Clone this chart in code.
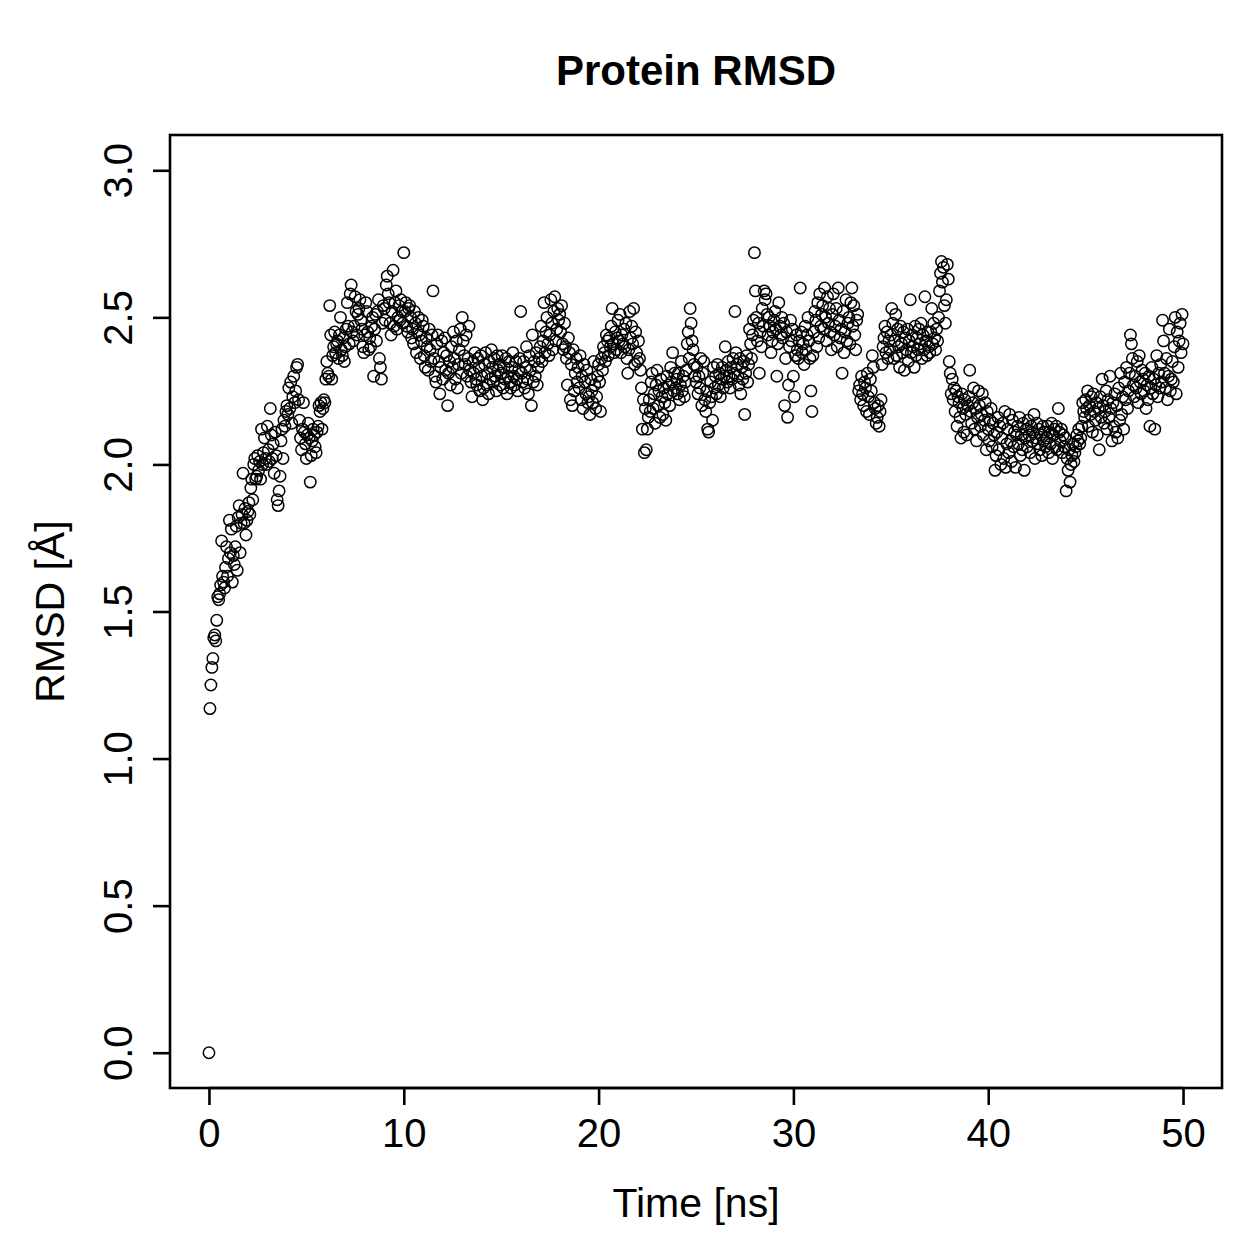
<!DOCTYPE html>
<html>
<head>
<meta charset="utf-8">
<script src="https://cdn.jsdelivr.net/npm/d3@7"></script>
<style>
  body { margin: 0; background: #fff; }
  text { font-family: "Liberation Sans", Arial, Helvetica, sans-serif; fill: #000; }
</style>
</head>
<body>
<div id="chart"></div>
<script>
// RMSD values, one frame every 0.05 ns
var timeStep = 0.05;
var rmsd0to10 = [
  0.00, 1.17, 1.25, 1.31, 1.34, 1.41, 1.42, 1.40, 1.47, 1.55,
  1.54, 1.56, 1.59, 1.74, 1.62, 1.60, 1.58, 1.65, 1.72, 1.62,
  1.68, 1.81, 1.70, 1.78, 1.60, 1.69, 1.66, 1.72, 1.79, 1.64,
  1.82, 1.86, 1.70, 1.80, 1.83, 1.97, 1.80, 1.85, 1.76, 1.81,
  1.84, 1.87, 1.83, 1.92, 1.95, 1.88, 2.00, 2.02, 1.95, 1.96,
  2.03, 1.98, 2.01, 1.95, 2.12, 2.00, 2.04, 2.09, 2.02, 2.00,
  2.13, 2.05, 2.01, 2.19, 2.10, 2.02, 2.07, 1.97, 2.11, 2.03,
  1.88, 1.86, 1.91, 1.96, 2.08, 2.12, 2.02, 2.15, 2.13, 2.18,
  2.20, 2.17, 2.26, 2.19, 2.28, 2.14, 2.23, 2.30, 2.21, 2.25,
  2.33, 2.34, 2.22, 2.15, 2.09, 2.05, 2.12, 2.21, 2.11, 2.07,
  2.02, 2.10, 2.14, 2.09, 1.94, 2.03, 2.08, 2.12, 2.10, 2.06,
  2.04, 2.11, 2.13, 2.20, 2.18, 2.21, 2.12, 2.19, 2.22, 2.21,
  2.29, 2.35, 2.31, 2.30, 2.54, 2.44, 2.29, 2.37, 2.40, 2.45,
  2.38, 2.41, 2.42, 2.36, 2.44, 2.50, 2.39, 2.37, 2.43, 2.35,
  2.40, 2.46, 2.55, 2.47, 2.41, 2.58, 2.61, 2.45, 2.42, 2.47,
  2.57, 2.52, 2.44, 2.51, 2.53, 2.56, 2.49, 2.46, 2.40, 2.38,
  2.44, 2.55, 2.52, 2.45, 2.39, 2.43, 2.40, 2.47, 2.50, 2.30,
  2.46, 2.51, 2.42, 2.52, 2.56, 2.36, 2.33, 2.29, 2.48, 2.54,
  2.53, 2.49, 2.61, 2.64, 2.58, 2.55, 2.48, 2.44, 2.52, 2.66,
  2.47, 2.55, 2.59, 2.46, 2.50, 2.54, 2.49, 2.56, 2.52, 2.48
];
var rmsd10to20 = [
  2.72, 2.52, 2.55, 2.47, 2.45, 2.53, 2.54, 2.50, 2.43, 2.46,
  2.41, 2.52, 2.48, 2.38, 2.45, 2.50, 2.44, 2.36, 2.42, 2.49,
  2.47, 2.37, 2.33, 2.43, 2.40, 2.32, 2.46, 2.39, 2.35, 2.44,
  2.59, 2.36, 2.30, 2.28, 2.41, 2.44, 2.35, 2.24, 2.33, 2.42,
  2.29, 2.38, 2.43, 2.32, 2.37, 2.20, 2.31, 2.35, 2.27, 2.40,
  2.33, 2.45, 2.36, 2.29, 2.42, 2.26, 2.34, 2.39, 2.46, 2.31,
  2.50, 2.42, 2.37, 2.34, 2.44, 2.30, 2.36, 2.47, 2.32, 2.28,
  2.23, 2.35, 2.31, 2.38, 2.29, 2.27, 2.36, 2.33, 2.25, 2.37,
  2.30, 2.22, 2.26, 2.34, 2.38, 2.27, 2.31, 2.24, 2.35, 2.29,
  2.39, 2.33, 2.28, 2.36, 2.30, 2.25, 2.37, 2.32, 2.34, 2.27,
  2.31, 2.37, 2.26, 2.33, 2.29, 2.36, 2.24, 2.30, 2.35, 2.28,
  2.26, 2.33, 2.38, 2.30, 2.27, 2.35, 2.29, 2.25, 2.32, 2.36,
  2.52, 2.31, 2.28, 2.35, 2.26, 2.33, 2.40, 2.29, 2.24, 2.37,
  2.32, 2.20, 2.44, 2.28, 2.35, 2.30, 2.38, 2.27, 2.33, 2.36,
  2.40, 2.47, 2.35, 2.42, 2.55, 2.38, 2.45, 2.50, 2.41, 2.37,
  2.44, 2.56, 2.48, 2.39, 2.52, 2.57, 2.42, 2.46, 2.53, 2.49,
  2.51, 2.45, 2.54, 2.41, 2.39, 2.48, 2.40, 2.36, 2.27, 2.43,
  2.38, 2.22, 2.34, 2.20, 2.39, 2.25, 2.31, 2.36, 2.28, 2.33,
  2.26, 2.37, 2.22, 2.30, 2.19, 2.34, 2.28, 2.24, 2.32, 2.21,
  2.23, 2.17, 2.29, 2.25, 2.21, 2.35, 2.27, 2.19, 2.23, 2.30
];
var rmsd20to30 = [
  2.34, 2.28, 2.18, 2.36, 2.32, 2.40, 2.38, 2.35, 2.44, 2.42,
  2.37, 2.43, 2.40, 2.47, 2.53, 2.41, 2.38, 2.45, 2.39, 2.43,
  2.49, 2.42, 2.51, 2.38, 2.44, 2.41, 2.46, 2.40, 2.48, 2.36,
  2.31, 2.39, 2.52, 2.43, 2.47, 2.41, 2.53, 2.34, 2.45, 2.38,
  2.35, 2.42, 2.36, 2.32, 2.26, 2.12, 2.22, 2.04, 2.19, 2.05,
  2.12, 2.16, 2.22, 2.18, 2.28, 2.31, 2.19, 2.24, 2.14, 2.27,
  2.32, 2.20, 2.25, 2.16, 2.29, 2.23, 2.17, 2.26, 2.21, 2.15,
  2.30, 2.24, 2.27, 2.20, 2.33, 2.28, 2.38, 2.25, 2.31, 2.26,
  2.29, 2.24, 2.31, 2.22, 2.27, 2.35, 2.25, 2.30, 2.23, 2.28,
  2.32, 2.41, 2.45, 2.36, 2.53, 2.48, 2.42, 2.39, 2.34, 2.30,
  2.28, 2.33, 2.24, 2.30, 2.26, 2.36, 2.20, 2.31, 2.35, 2.22,
  2.18, 2.25, 2.12, 2.11, 2.21, 2.28, 2.23, 2.15, 2.33, 2.26,
  2.30, 2.24, 2.34, 2.27, 2.31, 2.23, 2.29, 2.33, 2.26, 2.30,
  2.40, 2.32, 2.28, 2.35, 2.30, 2.26, 2.33, 2.29, 2.36, 2.31,
  2.52, 2.38, 2.34, 2.30, 2.27, 2.36, 2.24, 2.33, 2.29, 2.35,
  2.17, 2.31, 2.37, 2.28, 2.34, 2.46, 2.41, 2.36, 2.44, 2.49,
  2.72, 2.59, 2.50, 2.42, 2.48, 2.31, 2.45, 2.40, 2.53, 2.47,
  2.59, 2.56, 2.58, 2.51, 2.44, 2.50, 2.47, 2.38, 2.42, 2.45,
  2.49, 2.52, 2.46, 2.30, 2.41, 2.55, 2.47, 2.44, 2.50, 2.43,
  2.48, 2.20, 2.36, 2.45, 2.16, 2.27, 2.40, 2.49, 2.42, 2.46
];
var rmsd30to40 = [
  2.30, 2.23, 2.37, 2.44, 2.39, 2.36, 2.42, 2.60, 2.45, 2.38,
  2.41, 2.34, 2.47, 2.39, 2.44, 2.50, 2.42, 2.36, 2.25, 2.18,
  2.37, 2.45, 2.52, 2.49, 2.40, 2.55, 2.43, 2.58, 2.47, 2.51,
  2.54, 2.46, 2.60, 2.50, 2.42, 2.57, 2.48, 2.53, 2.45, 2.39,
  2.51, 2.58, 2.44, 2.47, 2.53, 2.40, 2.60, 2.49, 2.43, 2.46,
  2.31, 2.52, 2.38, 2.45, 2.56, 2.42, 2.48, 2.50, 2.41, 2.55,
  2.60, 2.47, 2.54, 2.44, 2.39, 2.49, 2.51, 2.25, 2.27, 2.22,
  2.30, 2.24, 2.20, 2.28, 2.26, 2.18, 2.31, 2.23, 2.17, 2.29,
  2.25, 2.37, 2.33, 2.21, 2.19, 2.14, 2.16, 2.20, 2.13, 2.18,
  2.22, 2.34, 2.40, 2.43, 2.47, 2.38, 2.45, 2.36, 2.42, 2.39,
  2.44, 2.53, 2.48, 2.36, 2.42, 2.51, 2.37, 2.46, 2.40, 2.33,
  2.47, 2.41, 2.38, 2.45, 2.32, 2.43, 2.39, 2.46, 2.35, 2.42,
  2.56, 2.38, 2.44, 2.40, 2.33, 2.47, 2.37, 2.43, 2.39, 2.46,
  2.41, 2.48, 2.36, 2.44, 2.39, 2.57, 2.42, 2.37, 2.45, 2.40,
  2.38, 2.45, 2.53, 2.41, 2.48, 2.43, 2.39, 2.46, 2.42, 2.50,
  2.59, 2.65, 2.69, 2.62, 2.67, 2.54, 2.48, 2.56, 2.68, 2.63,
  2.35, 2.31, 2.24, 2.29, 2.22, 2.26, 2.18, 2.25, 2.13, 2.23,
  2.21, 2.16, 2.09, 2.24, 2.19, 2.11, 2.22, 2.17, 2.10, 2.20,
  2.23, 2.32, 2.18, 2.14, 2.21, 2.26, 2.12, 2.19, 2.08, 2.16,
  2.25, 2.20, 2.13, 2.17, 2.24, 2.10, 2.15, 2.21, 2.05, 2.18
];
var rmsd40to50 = [
  2.12, 2.08, 2.15, 2.19, 2.06, 2.14, 2.10, 1.98, 2.03, 2.11,
  2.16, 2.05, 2.13, 2.00, 2.09, 2.14, 2.02, 2.18, 1.99, 2.07,
  2.12, 2.04, 2.17, 2.08, 2.01, 2.15, 2.06, 2.11, 1.99, 2.10,
  2.13, 2.07, 2.16, 2.03, 2.10, 2.05, 2.14, 1.98, 2.09, 2.12,
  2.06, 2.15, 2.10, 2.04, 2.13, 2.08, 2.11, 2.17, 2.02, 2.09,
  2.14, 2.07, 2.12, 2.05, 2.10, 2.03, 2.13, 2.08, 2.11, 2.06,
  2.09, 2.13, 2.04, 2.11, 2.07, 2.14, 2.02, 2.10, 2.12, 2.06,
  2.13, 2.05, 2.19, 2.11, 2.08, 2.12, 2.04, 2.10, 2.06, 2.09,
  1.91, 2.02, 1.98, 2.05, 1.94, 2.00, 2.03, 2.07, 2.01, 2.04,
  2.06, 2.10, 2.08, 2.12, 2.07, 2.09, 2.13, 2.21, 2.18, 2.16,
  2.22, 2.19, 2.25, 2.13, 2.20, 2.17, 2.23, 2.11, 2.24, 2.18,
  2.15, 2.21, 2.10, 2.19, 2.05, 2.23, 2.16, 2.29, 2.20, 2.14,
  2.18, 2.25, 2.12, 2.22, 2.16, 2.30, 2.19, 2.08, 2.21, 2.13,
  2.24, 2.11, 2.20, 2.09, 2.26, 2.15, 2.31, 2.17, 2.23, 2.12,
  2.28, 2.22, 2.33, 2.19, 2.25, 2.31, 2.44, 2.41, 2.36, 2.27,
  2.23, 2.30, 2.26, 2.35, 2.21, 2.37, 2.28, 2.24, 2.32, 2.29,
  2.25, 2.31, 2.19, 2.27, 2.22, 2.30, 2.13, 2.26, 2.33, 2.24,
  2.29, 2.12, 2.27, 2.37, 2.23, 2.31, 2.26, 2.34, 2.28, 2.49,
  2.42, 2.31, 2.26, 2.36, 2.22, 2.30, 2.46, 2.25, 2.29, 2.35,
  2.28, 2.40, 2.50, 2.24, 2.45, 2.33, 2.42, 2.48, 2.38, 2.51,
  2.41
];
var xTicks = [0, 10, 20, 30, 40, 50];
var yTicks = [0.0, 0.5, 1.0, 1.5, 2.0, 2.5, 3.0];

var rmsd = rmsd0to10.concat(rmsd10to20, rmsd20to30, rmsd30to40, rmsd40to50);
var points = rmsd.map(function(v, i) {
  return { time: i * timeStep, rmsd: v };
});

var width = 1259,
  height = 1259;
var margin = { top: 135, right: 37, bottom: 171, left: 170 };

var svg = d3
  .select("#chart")
  .append("svg")
  .attr("width", width)
  .attr("height", height);

// R pads the axis range by 4% on each side
var x = d3
  .scaleLinear()
  .domain([-2, 52])
  .range([margin.left, width - margin.right]);
var y = d3
  .scaleLinear()
  .domain([-0.12, 3.12])
  .range([height - margin.bottom, margin.top]);

var plotBottom = height - margin.bottom;

svg
  .append("g")
  .attr("class", "points")
  .selectAll("circle")
  .data(points)
  .enter()
  .append("circle")
  .attr("cx", d => x(d.time))
  .attr("cy", d => y(d.rmsd))
  .attr("r", 5.7)
  .attr("fill", "none")
  .attr("stroke", "#000")
  .attr("stroke-width", 1.5);

// x axis
var xAxis = svg
  .append("g")
  .attr("transform", "translate(0," + plotBottom + ")")
  .call(
    d3
      .axisBottom(x)
      .tickValues(xTicks)
      .tickSize(17)
      .tickPadding(14)
      .tickFormat(d3.format("d"))
  );
xAxis.select(".domain").remove();
xAxis.selectAll(".tick line").attr("stroke-width", 2.6);
xAxis
  .selectAll(".tick text")
  .style("font-size", "40px")
  .attr("font-family", null);

// y axis, labels turned like R's default
var yAxis = svg
  .append("g")
  .attr("transform", "translate(" + margin.left + ",0)")
  .call(
    d3
      .axisLeft(y)
      .tickValues(yTicks)
      .tickSize(17)
      .tickFormat(d3.format(".1f"))
  );
yAxis.select(".domain").remove();
yAxis.selectAll(".tick line").attr("stroke-width", 2.6);
yAxis
  .selectAll(".tick text")
  .attr("x", null)
  .attr("dy", null)
  .attr("transform", "translate(-52,0) rotate(-90)")
  .attr("text-anchor", "middle")
  .attr("dominant-baseline", "central")
  .style("font-size", "40px")
  .attr("font-family", null);

// axis lines span first to last tick
svg
  .append("line")
  .attr("x1", x(xTicks[0]))
  .attr("x2", x(xTicks[xTicks.length - 1]))
  .attr("y1", plotBottom)
  .attr("y2", plotBottom)
  .attr("stroke", "#000")
  .attr("stroke-width", 2.6);

// plot box
svg
  .append("rect")
  .attr("x", margin.left)
  .attr("y", margin.top)
  .attr("width", width - margin.left - margin.right)
  .attr("height", height - margin.top - margin.bottom)
  .attr("fill", "none")
  .attr("stroke", "#000")
  .attr("stroke-width", 2.6);

svg
  .append("text")
  .attr("x", (margin.left + width - margin.right) / 2)
  .attr("y", 70)
  .attr("text-anchor", "middle")
  .attr("dominant-baseline", "central")
  .style("font-size", "42px")
  .style("font-weight", "bold")
  .text("Protein RMSD");

svg
  .append("text")
  .attr("x", (margin.left + width - margin.right) / 2)
  .attr("y", 1203)
  .attr("text-anchor", "middle")
  .attr("dominant-baseline", "central")
  .style("font-size", "41px")
  .text("Time [ns]");

svg
  .append("text")
  .attr(
    "transform",
    "translate(50," + (margin.top + plotBottom) / 2 + ") rotate(-90)"
  )
  .attr("text-anchor", "middle")
  .attr("dominant-baseline", "central")
  .style("font-size", "41px")
  .text("RMSD [Å]");
</script>
</body>
</html>
